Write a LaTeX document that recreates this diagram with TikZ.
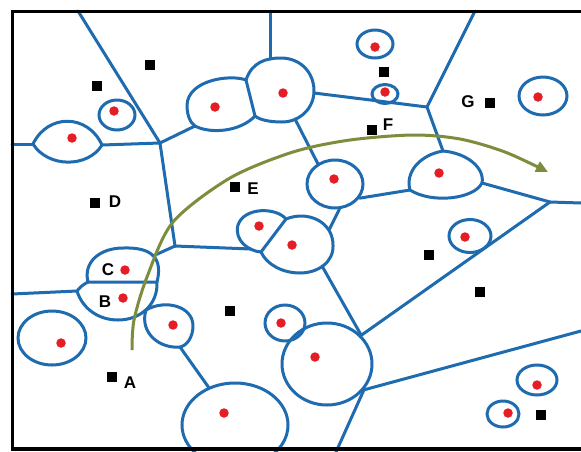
\documentclass[tikz,border=0pt]{standalone}
\usepackage{fontspec}
\setmainfont{Liberation Sans}
\usetikzlibrary{arrows.meta,shapes.geometric}
\definecolor{vblue}{RGB}{31,107,175}
\definecolor{vred}{RGB}{228,30,36}
\definecolor{vgreen}{RGB}{124,142,62}
\begin{document}
\begin{tikzpicture}[x=1pt,y=-1pt,
  edge/.style={draw=vblue,line width=3pt,line cap=round,line join=round},
  cellnode/.style={ellipse,draw=vblue,line width=3pt,inner sep=0pt},
  site/.style={circle,fill=vred,inner sep=0pt,minimum size=9.5pt},
  query/.style={rectangle,fill=black,inner sep=0pt,minimum size=9.5pt},
  lbl/.style={inner sep=0pt,font=\fontsize{17}{17}\selectfont\bfseries},
  garrow/.style={draw=vgreen,line width=3pt,-{Triangle[length=12pt,width=11pt]}},
  frame/.style={draw=black,line width=3.6pt}]

\useasboundingbox (0,0) rectangle (581,451);
\fill[white] (0,0) rectangle (581,451);

% junctions and border ends
\coordinate (J1) at (160,143);
\coordinate (J2) at (175,246);
\coordinate (J3) at (427,107);
\coordinate (J4) at (550,202);
\coordinate (eTop1) at (78,11);
\coordinate (eTop2) at (270,11);
\coordinate (eTop3) at (475,11);
\coordinate (eLeft1) at (12,144);
\coordinate (eLeft2) at (12,294);
\coordinate (eRight1) at (581,203);
\coordinate (eRight2) at (581,331);
\coordinate (eBot1) at (336,452);

% lens cell
\coordinate (aL) at (33,144);
\coordinate (aR) at (102,145);
\draw[edge] (aL) .. controls (48,113) and (88,114) .. (aR) .. controls (88,168) and (48,168) .. (aL);

% pair c
\coordinate (cT) at (246,80);
\coordinate (cB) at (255,116);
\coordinate (cLc) at (195,126);
\draw[edge] (cT) .. controls (230,74) and (188,80) .. (187,105) .. controls (187,117) and (191,123) .. (cLc) .. controls (210,134) and (240,132) .. (cB) -- (cT);
\coordinate (cRt) at (270,59);
\coordinate (cRr) at (314,93);
\coordinate (cRb) at (295,119);
\draw[edge] (cT) .. controls (252,62) and (266,58) .. (281,58) .. controls (300,58) and (314,72) .. (314,91) .. controls (314,108) and (300,122) .. (282,122) .. controls (270,122) and (260,120) .. (cB);

% pair q
\coordinate (qT) at (286,219);
\coordinate (qB) at (261,252);
\coordinate (qLc) at (251,249);
\draw[edge] (qT) .. controls (276,207) and (244,207) .. (238,225) .. controls (234,240) and (248,251) .. (qB) -- (qT);
\coordinate (qRt) at (329,230);
\coordinate (qRb) at (322,266);
\draw[edge] (qT) .. controls (308,210) and (333,222) .. (333,245) .. controls (334,262) and (318,273) .. (300,273) .. controls (283,273) and (267,265) .. (qB);

% pair C/B
\coordinate (sL) at (88,282);
\coordinate (sR) at (157,282);
\coordinate (Cc) at (153,256);
\coordinate (Btip) at (77,291);
\draw[edge] (sL) .. controls (83,262) and (100,248) .. (123,248) .. controls (152,247) and (163,258) .. (sR) -- (sL);
\draw[edge] (sL) .. controls (84,284) and (80,287) .. (Btip) .. controls (83,310) and (100,320) .. (118,320) .. controls (140,320) and (158,305) .. (sR);

% cell t
\coordinate (tT) at (146,310);
\coordinate (tB) at (180,347);
\draw[edge] (tT) .. controls (165,299) and (193,306) .. (193,326) .. controls (193,338) and (186,346) .. (tB) .. controls (160,349) and (139,333) .. (tT);

% cell l
\coordinate (lT) at (443,151);
\coordinate (lR) at (482,183);
\coordinate (lL) at (410,190);
\draw[edge] (lT) .. controls (467,153) and (485,168) .. (lR) .. controls (474,199) and (432,204) .. (lL) .. controls (405,172) and (420,155) .. (lT);

% single cells
\node[cellnode,minimum width=36pt,minimum height=30pt] (cb) at (117,115) {};
\node[cellnode,minimum width=36pt,minimum height=28pt] (cd) at (375,44) {};
\node[cellnode,minimum width=26pt,minimum height=19pt] (ce) at (385,94) {};
\node[cellnode,minimum width=48pt,minimum height=38pt] (cj) at (543,96) {};
\node[cellnode,minimum width=56pt,minimum height=48pt] (ck) at (335,184) {};
\node[cellnode,minimum width=42pt,minimum height=33pt] (cm) at (470,236) {};
\node[cellnode,minimum width=90pt,minimum height=82pt] (cr) at (327,364) {};
\node[cellnode,minimum width=40pt,minimum height=36pt] (cs) at (285,323) {};
\node[cellnode,minimum width=68pt,minimum height=54pt] (cv) at (52,338) {};
\node[cellnode,minimum width=106pt,minimum height=84pt] (cw) at (235,425) {};
\node[cellnode,minimum width=40pt,minimum height=30pt] (cy1) at (537,380) {};
\node[cellnode,minimum width=32pt,minimum height=26pt] (cy2) at (503,414) {};

% edges
\draw[edge] (eLeft1) -- (aL);
\draw[edge] (aR) -- (J1);
\draw[edge] (eTop1) -- (J1);
\draw[edge] (J1) -- (cLc);
\draw[edge] (J1) -- (J2);
\draw[edge] (J2) -- (qLc);
\draw[edge] (J2) -- (Cc);
\draw[edge] (cRt) -- (eTop2);
\draw[edge] (cRr) -- (J3);
\draw[edge] (eTop3) -- (J3);
\draw[edge] (J3) -- (lT);
\draw[edge] (cRb) -- (ck.130);
\draw[edge] (ck.-30) -- (lL);
\draw[edge] (ck.-80) -- (qRt);
\draw[edge] (lR) -- (J4);
\draw[edge] (J4) -- (eRight1);
\draw[edge] (J4) -- (cr.40);
\draw[edge] (qRb) -- (cr.40);
\draw[edge] (cr.-35) -- (eRight2);
\draw[edge] (cr.-35) -- (eBot1);
\draw[edge] (eLeft2) -- (Btip);
\draw[edge] (tB) -- (cw.125);

% sites
\foreach \p/\n in {(72,138)/a,(114,111)/b,(215,107)/cl,(283,93)/cr,(375,47)/d,(385,92)/e,
  (538,97)/j,(334,179)/k,(439,173)/l,(465,237)/m,(259,226)/ql,(292,245)/qr,(125,270)/sc,
  (123,298)/sb,(173,325)/t,(61,343)/v,(281,323)/s,(315,357)/r,(224,413)/w,(537,385)/y1,(508,413)/y2}
  \node[site] (site-\n) at \p {};

% query points
\node[query] (q1) at (150,65) {};
\node[query] (q2) at (97,86) {};
\node[query] (q3) at (384,72) {};
\node[query] (qF) at (372,130) {};
\node[query] (qG) at (490,103) {};
\node[query] (qD) at (95,203) {};
\node[query] (qE) at (235,187) {};
\node[query] (q4) at (429,255) {};
\node[query] (q5) at (480,292) {};
\node[query] (q6) at (230,311) {};
\node[query] (qA) at (112,377) {};
\node[query] (q7) at (541,415) {};

% green arrow
\draw[garrow] plot[smooth] coordinates {(132,350) (134,320) (147,277) (173,222) (230,178) (293,152) (350,140) (413,135) (460,139) (505,152) (548,172)};

% labels
\node[lbl] (lC) at (108,270) {C};
\node[lbl] (lB) at (105,302) {B};
\node[lbl] (lD) at (115,202) {D};
\node[lbl] (lE) at (253,189) {E};
\node[lbl] (lF) at (388,125) {F};
\node[lbl] (lG) at (468,102) {G};
\node[lbl] (lA) at (130,383) {A};

% frame (open on the right)
\draw[frame] (581,11.5) -- (12.5,11.5) -- (12.5,449.2) -- (581,449.2);
\end{tikzpicture}
\end{document}
